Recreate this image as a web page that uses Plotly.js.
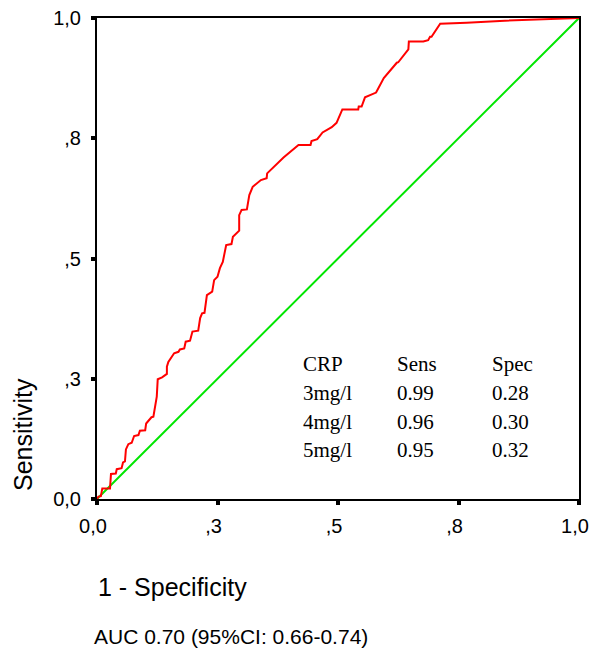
<!DOCTYPE html>
<html>
<head>
<meta charset="utf-8">
<script src="https://cdn.plot.ly/plotly-3.0.1.min.js"></script>
<style>html,body{margin:0;padding:0;background:#fff;}#chart{width:591px;height:649px;}</style>
</head>
<body>
<div id="chart"></div>
<script>
// ROC curve (1 - specificity, sensitivity)
const fpr = [0,0.003,0.008,0.011,0.027,0.029,0.039,0.041,0.051,0.054,0.058,0.060,0.065,0.072,0.077,0.086,0.089,0.100,0.102,0.113,0.117,0.120,0.124,0.126,0.135,0.145,0.145,0.148,0.160,0.169,0.172,0.181,0.184,0.193,0.198,0.210,0.214,0.218,0.223,0.228,0.239,0.243,0.250,0.255,0.261,0.268,0.279,0.282,0.295,0.295,0.300,0.311,0.316,0.323,0.340,0.352,0.353,0.387,0.418,0.443,0.445,0.457,0.468,0.487,0.497,0.509,0.542,0.543,0.549,0.556,0.579,0.595,0.622,0.625,0.646,0.647,0.677,0.687,0.691,0.694,0.712,0.767,0.836,1];
const tpr = [0,0.005,0.006,0.022,0.022,0.052,0.053,0.062,0.064,0.076,0.078,0.103,0.114,0.117,0.131,0.133,0.142,0.143,0.157,0.170,0.171,0.192,0.213,0.249,0.253,0.260,0.275,0.285,0.303,0.306,0.311,0.313,0.327,0.329,0.348,0.350,0.376,0.386,0.387,0.424,0.431,0.455,0.462,0.480,0.493,0.528,0.530,0.545,0.558,0.590,0.601,0.602,0.632,0.649,0.663,0.667,0.677,0.710,0.736,0.736,0.744,0.748,0.762,0.773,0.782,0.810,0.810,0.816,0.816,0.835,0.845,0.875,0.907,0.908,0.935,0.951,0.951,0.954,0.961,0.961,0.988,0.990,0.994,1];
const refX = [0, 1];
const refY = [0, 1];

const tickVals = [0, 0.25, 0.5, 0.75, 1];
const tickText = ["0,0", ",3", ",5", ",8", "1,0"];

const tableHeader = ["CRP", "Sens", "Spec"];
const cutoffs = ["3mg/l", "4mg/l", "5mg/l"];
const sensVals = ["0.99", "0.96", "0.95"];
const specVals = ["0.28", "0.30", "0.32"];

const xTitle = "1 - Specificity";
const yTitle = "Sensitivity";
const aucText = "AUC 0.70 (95%CI: 0.66-0.74)";

const L = 97, R = 12, T = 18, B = 150, W = 591, H = 649;
const pw = W - L - R, ph = H - T - B;
const px = v => (v - L) / pw;
const py = v => (H - B - v) / ph;

const serif = {family: "Liberation Serif, serif", size: 21, color: "#000"};
const colX = [301, 395, 490];
const rowY = [364, 393, 421.5, 450];
const annotations = [];
tableHeader.forEach((t, i) => annotations.push({text: t, x: px(colX[i]), y: py(rowY[0]), xref: "paper", yref: "paper", xanchor: "left", yanchor: "middle", showarrow: false, font: serif}));
cutoffs.forEach((c, r) => {
  [c, sensVals[r], specVals[r]].forEach((t, i) => annotations.push({text: t, x: px(colX[i]), y: py(rowY[r + 1]), xref: "paper", yref: "paper", xanchor: "left", yanchor: "middle", showarrow: false, font: serif}));
});
annotations.push({text: yTitle, textangle: -90, x: px(23), y: py(435), xref: "paper", yref: "paper", xanchor: "center", yanchor: "middle", showarrow: false, font: {family: "Liberation Sans, Arial, sans-serif", size: 25, color: "#000"}});
annotations.push({text: xTitle, x: px(96), y: py(587), xref: "paper", yref: "paper", xanchor: "left", yanchor: "middle", showarrow: false, font: {family: "Liberation Sans, Arial, sans-serif", size: 25, color: "#000"}});
annotations.push({text: aucText, x: px(92), y: py(636), xref: "paper", yref: "paper", xanchor: "left", yanchor: "middle", showarrow: false, font: {family: "Liberation Sans, Arial, sans-serif", size: 21, color: "#000"}});

const traces = [
  {x: refX, y: refY, mode: "lines", line: {color: "#00e600", width: 2}, hoverinfo: "skip"},
  {x: fpr, y: tpr, mode: "lines", line: {color: "#ff0000", width: 2}, hoverinfo: "skip"}
];

const axisCommon = {
  range: [0, 1], tickvals: tickVals, ticktext: tickText, showgrid: false, zeroline: false,
  showline: true, linecolor: "#000", linewidth: 2, mirror: true,
  ticks: "outside", ticklen: 4, tickwidth: 4, tickcolor: "#000",
  ticklabeloverflow: "allow",
  tickfont: {family: "Liberation Sans, Arial, sans-serif", size: 20, color: "#000"}
};

const layout = {
  width: W, height: H,
  margin: {l: L, r: R, t: T, b: B, pad: 0},
  paper_bgcolor: "#fff", plot_bgcolor: "#fff",
  showlegend: false,
  xaxis: Object.assign({}, axisCommon, {ticklabelstandoff: 4, ticklabelshift: -4}),
  yaxis: Object.assign({}, axisCommon, {ticklabelstandoff: 6}),
  annotations: annotations
};

Plotly.newPlot("chart", traces, layout, {staticPlot: true, displayModeBar: false});
</script>
</body>
</html>
